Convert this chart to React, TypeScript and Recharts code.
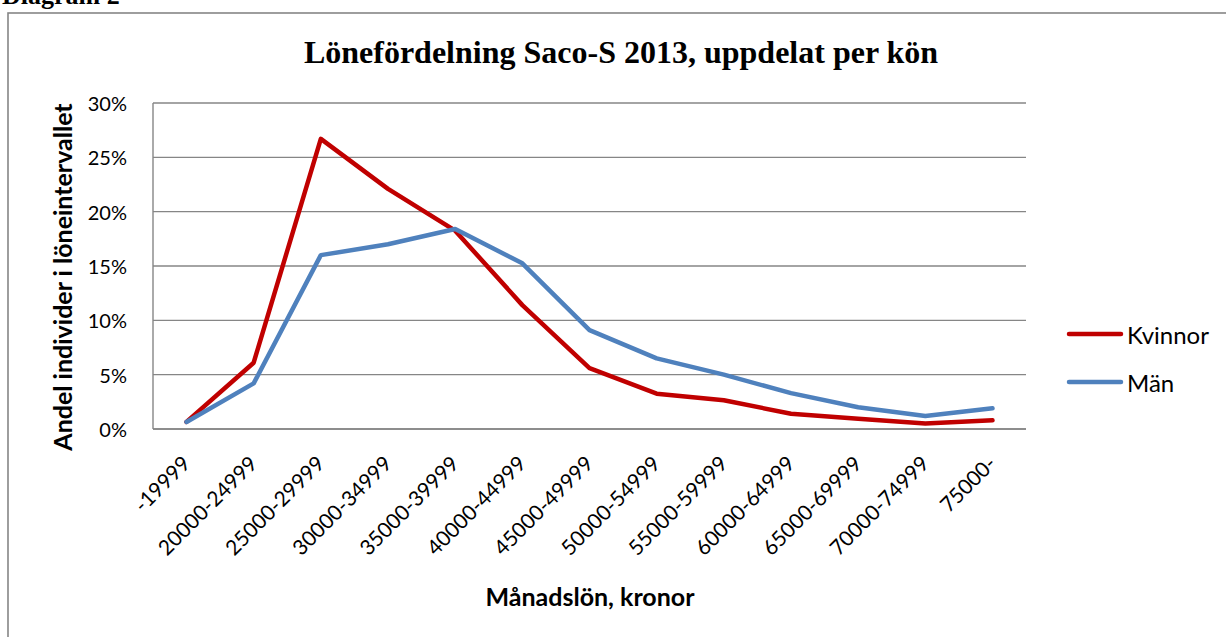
import React from 'react';
import { LineChart, Line, XAxis, YAxis, CartesianGrid } from 'recharts';

const categories = ['-19999', '20000-24999', '25000-29999', '30000-34999', '35000-39999', '40000-44999', '45000-49999', '50000-54999', '55000-59999', '60000-64999', '65000-69999', '70000-74999', '75000-'];
const kvinnor = [0.65, 6.1, 26.7, 22.1, 18.25, 11.4, 5.6, 3.25, 2.65, 1.4, 0.95, 0.5, 0.8];
const man = [0.65, 4.2, 16.0, 17.0, 18.4, 15.25, 9.1, 6.5, 5.0, 3.3, 2.0, 1.2, 1.9];
const yTicks = [0, 5, 10, 15, 20, 25, 30];

const title = 'Lönefördelning Saco-S 2013, uppdelat per kön';
const yTitle = 'Andel individer i löneintervallet';
const xTitle = 'Månadslön, kronor';
const seriesNames = ['Kvinnor', 'Män'];

const data = categories.map((c, i) => ({ cat: c, kvinnor: kvinnor[i], man: man[i] }));

const RED = '#C00000';
const BLUE = '#4F81BD';
const GRID = '#868686';
const SANS = 'Lato, "Open Sans", sans-serif';
const SERIF = '"Liberation Serif", "DejaVu Serif", serif';

const XTick = (props: any) => {
  const { x, y, payload } = props;
  const tx = x + 5;
  const ty = y + 36;
  return (
    <text x={tx} y={ty} textAnchor="end" fontFamily={SANS} fontSize={21} fill="#000" transform={`rotate(-45, ${tx}, ${ty})`}>
      {payload.value}
    </text>
  );
};

const YTick = (props: any) => {
  const { x, y, payload } = props;
  return (
    <text x={x - 26} y={y} textAnchor="end" dominantBaseline="central" fontFamily={SANS} fontSize={20} fill="#000">
      {`${payload.value}%`}
    </text>
  );
};

export default function App() {
  return (
    <div style={{ position: 'absolute', left: 0, top: 0, width: 1226, height: 637, overflow: 'hidden', background: '#fff' }}>
      <LineChart
        width={1226}
        height={637}
        data={data}
        margin={{ top: 103, right: 200, left: 93, bottom: 88 }}
      >
        <CartesianGrid vertical={false} stroke={GRID} strokeWidth={1.4} />
        <XAxis
          dataKey="cat"
          height={120}
          interval={0}
          padding={{ left: 33.5, right: 33.5 }}
          tickLine={false}
          tickSize={0}
          tickMargin={0}
          axisLine={{ stroke: GRID, strokeWidth: 1.4 }}
          tick={<XTick />}
        />
        <YAxis
          width={60}
          domain={[0, 30]}
          ticks={yTicks}
          tickLine={false}
          tickSize={0}
          tickMargin={0}
          axisLine={{ stroke: GRID, strokeWidth: 1.4 }}
          tick={<YTick />}
        />
        <Line type="linear" dataKey="kvinnor" name={seriesNames[0]} stroke={RED} strokeWidth={4.5} strokeLinejoin="round" strokeLinecap="round" dot={false} isAnimationActive={false} />
        <Line type="linear" dataKey="man" name={seriesNames[1]} stroke={BLUE} strokeWidth={4.5} strokeLinejoin="round" strokeLinecap="round" dot={false} isAnimationActive={false} />
      </LineChart>
      <svg width={1226} height={637} style={{ position: 'absolute', left: 0, top: 0, pointerEvents: 'none' }}>
        <text x={2} y={4} fontFamily={SERIF} fontWeight="bold" fontSize={26} fill="#000">Diagram 2</text>
        <rect x={8} y={13} width={1300} height={700} fill="none" stroke={GRID} strokeWidth={1.6} />
        <text x={621} y={63} textAnchor="middle" fontFamily={SERIF} fontWeight="bold" fontSize={32} fill="#000">{title}</text>
        <text x={62} y={277} textAnchor="middle" dominantBaseline="central" fontFamily={SANS} fontWeight="bold" fontSize={25} fill="#000" transform="rotate(-90, 62, 277)">{yTitle}</text>
        <text x={590} y={596} textAnchor="middle" dominantBaseline="central" fontFamily={SANS} fontWeight="bold" fontSize={25} fill="#000">{xTitle}</text>
        <line x1={1069} y1={334} x2={1121} y2={334} stroke={RED} strokeWidth={4.5} strokeLinecap="round" />
        <text x={1127} y={334} dominantBaseline="central" fontFamily={SANS} fontSize={24} fill="#000">{seriesNames[0]}</text>
        <line x1={1069} y1={382} x2={1121} y2={382} stroke={BLUE} strokeWidth={4.5} strokeLinecap="round" />
        <text x={1127} y={382} dominantBaseline="central" fontFamily={SANS} fontSize={24} fill="#000">{seriesNames[1]}</text>
      </svg>
    </div>
  );
}
